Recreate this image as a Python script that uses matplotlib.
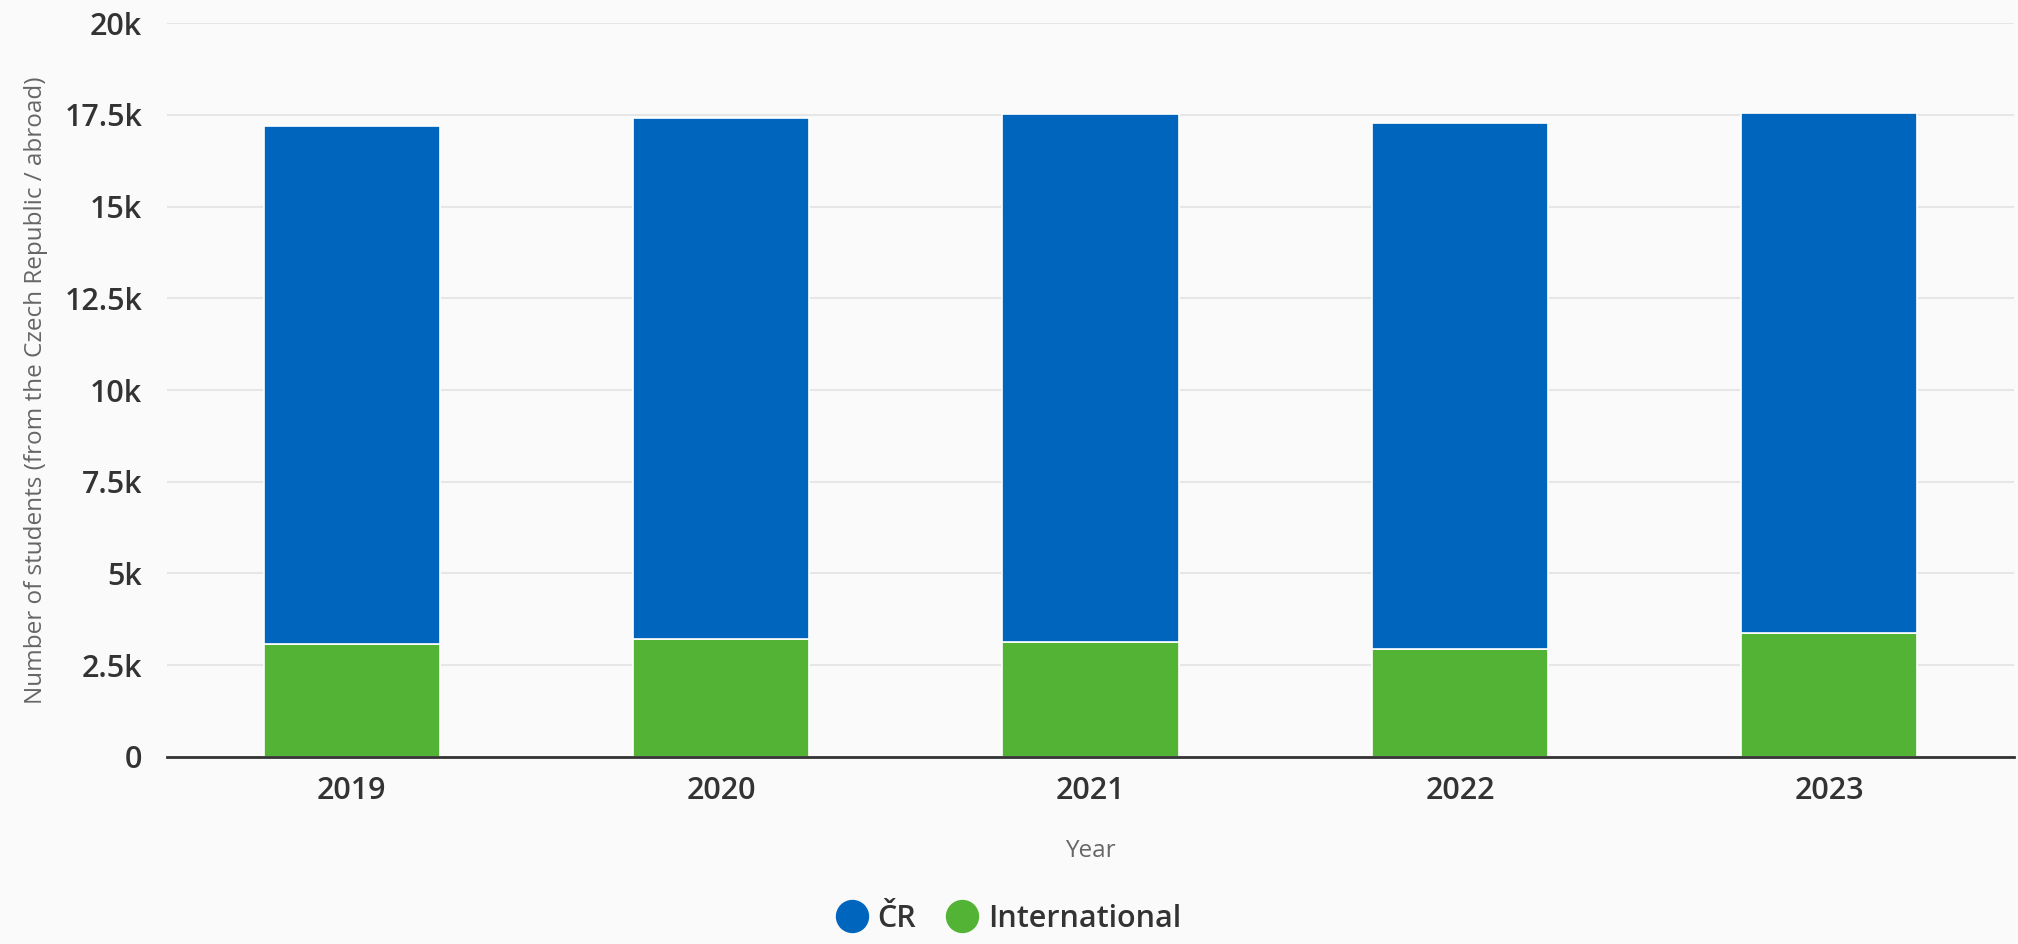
import matplotlib.pyplot as plt
import numpy as np

# data
years = ['2019', '2020', '2021', '2022', '2023']
total = [17200, 17420, 17520, 17290, 17550]
international = [3080, 3210, 3120, 2950, 3380]
cr = [t - i for t, i in zip(total, international)]

BLUE = '#0065bd'
GREEN = '#52b334'

plt.rcParams['font.family'] = ['Open Sans', 'DejaVu Sans']

fig = plt.figure(figsize=(20.18, 9.44), dpi=100)
fig.patch.set_facecolor('#fafafa')
ax = fig.add_axes([0.0828, 0.1984, 0.9152, 0.7769])
ax.set_facecolor('none')

x = np.arange(len(years))
w = 0.477
ax.bar(x, international, width=w, color=GREEN, edgecolor='white', linewidth=1.2, zorder=3, label='International')
ax.bar(x, cr, width=w, bottom=international, color=BLUE, edgecolor='white', linewidth=1.2, zorder=3, label='ČR')

ax.set_xlim(-0.5, 4.5)
ax.set_ylim(0, 20000)
yt = np.arange(0, 20001, 2500)
ax.set_yticks(yt)
ax.set_yticklabels(['0' if v == 0 else ('%gk' % (v / 1000)) for v in yt])
ax.set_xticks(x)
ax.set_xticklabels(years)

ax.grid(axis='y', color='#e6e6e6', linewidth=1.5, zorder=0)
for s in ['top', 'right', 'left']:
    ax.spines[s].set_visible(False)
ax.spines['bottom'].set_color('#333333')
ax.spines['bottom'].set_linewidth(2)
ax.spines['bottom'].set_zorder(4)

ax.tick_params(axis='y', length=0, pad=18, labelsize=22, labelcolor='#333333')
ax.tick_params(axis='x', length=0, pad=14, labelsize=22, labelcolor='#333333')
for lab in ax.get_xticklabels() + ax.get_yticklabels():
    lab.set_fontweight('semibold')

ax.set_ylabel('Number of students (from the Czech Republic / abroad)', fontsize=17.5, color='#666666', labelpad=12)
ax.set_xlabel('Year', fontsize=17.5, color='#666666', labelpad=24)

# legend with round markers
h1 = plt.Line2D([], [], marker='o', linestyle='none', markersize=23, color=BLUE)
h2 = plt.Line2D([], [], marker='o', linestyle='none', markersize=23, color=GREEN)
leg = fig.legend([h1, h2], ['ČR', 'International'], loc='center', bbox_to_anchor=(0.5, 0.027),
                 ncol=2, frameon=False, fontsize=22, handletextpad=0.35, columnspacing=1.0,
                 handlelength=1.0)
for t in leg.get_texts():
    t.set_color('#333333')
    t.set_fontweight('semibold')

fig.savefig('out.png', dpi=100, facecolor=fig.get_facecolor())
